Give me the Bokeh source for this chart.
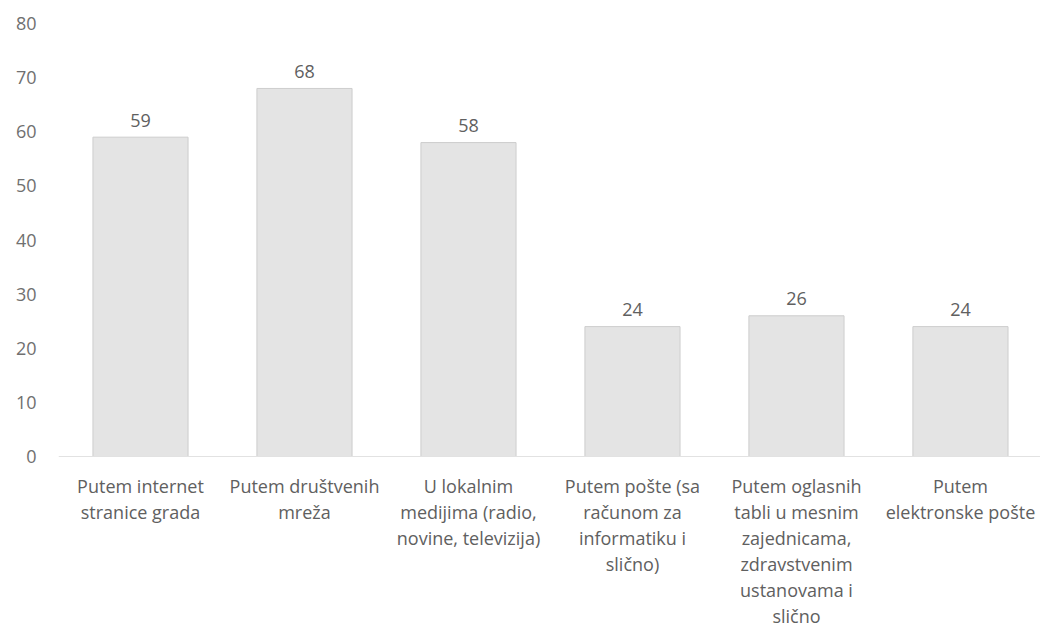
from bokeh.plotting import figure
from bokeh.models import ColumnDataSource, Range1d, FixedTicker, Span
from bokeh.core.properties import value
from bokeh.embed import file_html
from bokeh.resources import INLINE

categories = [
    "Putem internet\nstranice grada",
    "Putem društvenih\nmreža",
    "U lokalnim\nmedijima (radio,\nnovine, televizija)",
    "Putem pošte (sa\nračunom za\ninformatiku i\nslično)",
    "Putem oglasnih\ntabli u mesnim\nzajednicama,\nzdravstvenim\nustanovama i\nslično",
    "Putem\nelektronske pošte",
]
values = [59, 68, 58, 24, 26, 24]
y_ticks = [0, 10, 20, 30, 40, 50, 60, 70, 80]

xpos = [i + 0.5 for i in range(len(categories))]
src = ColumnDataSource(dict(x=xpos, top=values, label=[str(v) for v in values],
                            cat=categories, base=[0] * len(values)))

FONT = "Open Sans"
GREY = "#606060"

p = figure(width=1040, height=629, output_backend="svg", toolbar_location=None,
           x_range=Range1d(0, 5.988), y_range=Range1d(-31.96, 84.25),
           min_border_left=58, min_border_right=0, min_border_top=0, min_border_bottom=0)
p.outline_line_color = None
p.xgrid.visible = False
p.ygrid.visible = False
p.xaxis.visible = False

p.add_layout(Span(location=0, dimension="width", line_color="#e2e2e2", line_width=1))

p.vbar(x="x", top="top", width=0.58, bottom=0, source=src,
       fill_color="#e4e4e4", line_color="#cdcdcd", line_width=1)

p.text(x="x", y="top", text="label", source=src, text_align="center",
       text_baseline="alphabetic", y_offset=-17, text_font=value(FONT),
       text_font_size="18px", text_color=GREY)

p.text(x="x", y="base", text="cat", source=src, text_align="center",
       text_baseline="top", y_offset=17, text_font=value(FONT),
       text_font_size="18px", text_color=GREY, text_line_height=1.09)

p.yaxis.ticker = FixedTicker(ticks=y_ticks)
p.yaxis.axis_line_color = None
p.yaxis.major_tick_line_color = None
p.yaxis.minor_tick_line_color = None
p.yaxis.major_label_standoff = 16
p.yaxis.major_label_text_font = FONT
p.yaxis.major_label_text_font_size = "18px"
p.yaxis.major_label_text_color = "#707070"

open("out.html", "w").write(file_html(p, INLINE))
